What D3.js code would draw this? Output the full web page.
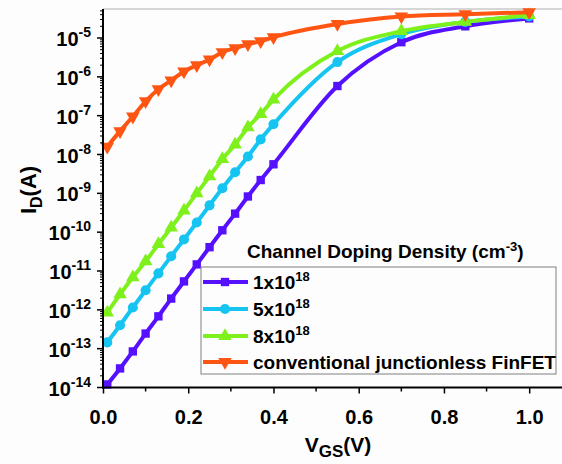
<!DOCTYPE html>
<html>
<head>
<meta charset="utf-8">
<script src="https://cdn.jsdelivr.net/npm/d3@7"></script>
<style>
  html, body { margin: 0; padding: 0; background: #fdfdfd; }
  svg { display: block; font-family: Arial, "Liberation Sans", sans-serif; font-weight: bold; }
</style>
</head>
<body>
<svg id="chart" width="562" height="464"></svg>
<script>
const width = 562, height = 464;

// gate voltage (V) at each marker
const vgs = [0.01, 0.04, 0.07, 0.10, 0.13, 0.16, 0.19, 0.22, 0.25, 0.28, 0.31, 0.34, 0.37, 0.40, 0.55, 0.70, 0.85, 1.0];

// drain current (A)
const id1e18 = [1.2e-14, 3.1e-14, 8.5e-14, 2.45e-13, 6.8e-13, 1.95e-12, 5.4e-12, 1.48e-11, 4.1e-11, 1.12e-10, 3.0e-10, 8.3e-10, 2.2e-9, 5.6e-9, 5.8e-7, 7.8e-6, 2.0e-5, 3.2e-5];
const id5e18 = [1.45e-13, 4.0e-13, 1.15e-12, 3.2e-12, 8.7e-12, 2.4e-11, 6.5e-11, 1.78e-10, 4.9e-10, 1.35e-9, 3.5e-9, 8.9e-9, 2.45e-8, 6.0e-8, 2.4e-6, 1.26e-5, 2.6e-5, 3.6e-5];
const id8e18 = [8.5e-13, 2.5e-12, 6.9e-12, 1.78e-11, 4.9e-11, 1.32e-10, 3.6e-10, 1.0e-9, 2.75e-9, 7.6e-9, 1.8e-8, 5.0e-8, 1.1e-7, 2.6e-7, 4.6e-6, 1.5e-5, 2.6e-5, 3.9e-5];
const idConv = [1.6e-8, 4.0e-8, 9.5e-8, 2.35e-7, 4.8e-7, 8.1e-7, 1.38e-6, 2.0e-6, 2.8e-6, 4.3e-6, 5.5e-6, 6.9e-6, 8.3e-6, 1.05e-5, 2.3e-5, 3.6e-5, 4.1e-5, 4.6e-5];

const seriesNames = ["1x10", "5x10", "8x10", "conventional junctionless FinFET"];
const seriesSup = ["18", "18", "18", ""];
const seriesData = [id1e18, id5e18, id8e18, idConv];
const seriesColors = ["#5511ff", "#16c4f2", "#7ef01c", "#ff5512"];
const seriesSymbols = [d3.symbolSquare, d3.symbolCircle, d3.symbolTriangle, d3.symbolTriangle];
const symbolFlip = [false, false, false, true];

const xTicks = [0.0, 0.2, 0.4, 0.6, 0.8, 1.0];
const yExponents = [-14, -13, -12, -11, -10, -9, -8, -7, -6, -5];

const x = d3.scaleLinear().domain([0, 1.077]).range([103, 562]);
const y = d3.scaleLog().domain([1e-14, Math.pow(10, -4.253)]).range([387.5, 9]);

const svg = d3.select("#chart");

// top frame line (grey)
svg.append("line")
  .attr("x1", x(0)).attr("x2", width).attr("y1", 9).attr("y2", 9)
  .attr("stroke", "#c8c8c8").attr("stroke-width", 1.5);

// curves
const line = d3.line()
  .x((d, i) => x(vgs[i]))
  .y(d => y(d))
  .curve(d3.curveMonotoneX);

seriesData.forEach((vals, s) => {
  const g = svg.append("g");
  g.append("path")
    .datum(vals)
    .attr("d", line)
    .attr("fill", "none")
    .attr("stroke", seriesColors[s])
    .attr("stroke-width", 4);
  g.selectAll("path.m")
    .data(vals)
    .join("path")
    .attr("class", "m")
    .attr("d", d3.symbol().type(seriesSymbols[s]).size(s === 0 ? 70 : 80))
    .attr("transform", (d, i) => `translate(${x(vgs[i])},${y(d)})${symbolFlip[s] ? " rotate(180)" : ""}`)
    .attr("fill", seriesColors[s]);
});

// x axis
const xAxis = d3.axisBottom(x).tickValues(xTicks).tickSize(6).tickFormat(d3.format(".1f"));
const gx = svg.append("g").attr("transform", `translate(0,${y(1e-14)})`).call(xAxis);
gx.select(".domain").remove();
gx.append("line").attr("x1", x(0) - 1).attr("x2", width).attr("stroke", "#000").attr("stroke-width", 2);
gx.selectAll(".tick line").attr("stroke-width", 1.5);
gx.selectAll(".tick text").attr("font-size", 20).attr("font-weight", "bold").attr("fill", "#000")
  .attr("font-family", "Arial, 'Liberation Sans', sans-serif").attr("y", 22).attr("dy", "0.71em");
gx.selectAll("line.minor")
  .data([0.1, 0.3, 0.5, 0.7, 0.9])
  .join("line")
  .attr("class", "minor")
  .attr("x1", d => x(d)).attr("x2", d => x(d))
  .attr("y1", 0).attr("y2", 4)
  .attr("stroke", "#000").attr("stroke-width", 1.5);

// y axis
const gy = svg.append("g").attr("transform", `translate(${x(0)},0)`);
gy.append("line").attr("y1", 9).attr("y2", y(1e-14) + 1).attr("stroke", "#000").attr("stroke-width", 2);
const minorVals = [];
yExponents.forEach(e => {
  for (let k = 2; k <= 9; k++) {
    const v = k * Math.pow(10, e);
    if (v <= y.domain()[1]) minorVals.push(v);
  }
});
gy.selectAll("line.minor")
  .data(minorVals)
  .join("line")
  .attr("class", "minor")
  .attr("x1", -3).attr("x2", 0)
  .attr("y1", d => y(d)).attr("y2", d => y(d))
  .attr("stroke", "#000").attr("stroke-width", 1);
gy.selectAll("line.major")
  .data(yExponents)
  .join("line")
  .attr("class", "major")
  .attr("x1", -6).attr("x2", 0)
  .attr("y1", d => y(Math.pow(10, d))).attr("y2", d => y(Math.pow(10, d)))
  .attr("stroke", "#000").attr("stroke-width", 1.5);
const ylab = gy.selectAll("text.tl")
  .data(yExponents)
  .join("text")
  .attr("class", "tl")
  .attr("x", -47)
  .attr("y", d => y(Math.pow(10, d)) + 8)
  .attr("text-anchor", "start")
  .attr("font-size", 20)
  .attr("fill", "#000");
ylab.append("tspan").text("10");
ylab.append("tspan").attr("dy", -9).attr("font-size", 14).text(d => "-" + Math.abs(d));
// right-align the labels just left of the ticks
ylab.each(function () {
  const w = this.getComputedTextLength();
  d3.select(this).attr("x", -12 - w);
});

// axis titles
const xt = svg.append("text")
  .attr("x", 338).attr("y", 452)
  .attr("text-anchor", "middle")
  .attr("font-size", 21)
  .attr("fill", "#000");
xt.append("tspan").text("V");
xt.append("tspan").attr("dy", 5).attr("font-size", 17).text("GS");
xt.append("tspan").attr("dy", -5).text("(V)");

const yt = svg.append("text")
  .attr("transform", "translate(36,190) rotate(-90)")
  .attr("text-anchor", "middle")
  .attr("font-size", 22)
  .attr("fill", "#000");
yt.append("tspan").text("I");
yt.append("tspan").attr("dy", 6).attr("font-size", 16).text("D");
yt.append("tspan").attr("dy", -6).text("(A)");

// legend
const legend = svg.append("g");
legend.append("rect")
  .attr("x", 201).attr("y", 267).attr("width", 355).attr("height", 107)
  .attr("fill", "#fdfdfd").attr("stroke", "#808080").attr("stroke-width", 1);
const lt = legend.append("text")
  .attr("x", 247).attr("y", 258)
  .attr("font-size", 19)
  .attr("fill", "#000");
lt.append("tspan").text("Channel Doping Density (cm");
lt.append("tspan").attr("dy", -7).attr("font-size", 13).text("-3");
lt.append("tspan").attr("dy", 7).text(")");

const rowY = [282, 309, 336, 362];
seriesNames.forEach((name, s) => {
  const ry = rowY[s];
  legend.append("line")
    .attr("x1", 203).attr("x2", 248).attr("y1", ry).attr("y2", ry)
    .attr("stroke", seriesColors[s]).attr("stroke-width", 4);
  legend.append("path")
    .attr("d", d3.symbol().type(seriesSymbols[s]).size(s === 0 ? 70 : 80))
    .attr("transform", `translate(225,${ry})${symbolFlip[s] ? " rotate(180)" : ""}`)
    .attr("fill", seriesColors[s]);
  const t = legend.append("text")
    .attr("x", 253).attr("y", ry + 7)
    .attr("font-size", 19)
    .attr("fill", "#000");
  t.append("tspan").text(name);
  if (seriesSup[s]) t.append("tspan").attr("dy", -8).attr("font-size", 13).text(seriesSup[s]);
});
</script>
</body>
</html>
